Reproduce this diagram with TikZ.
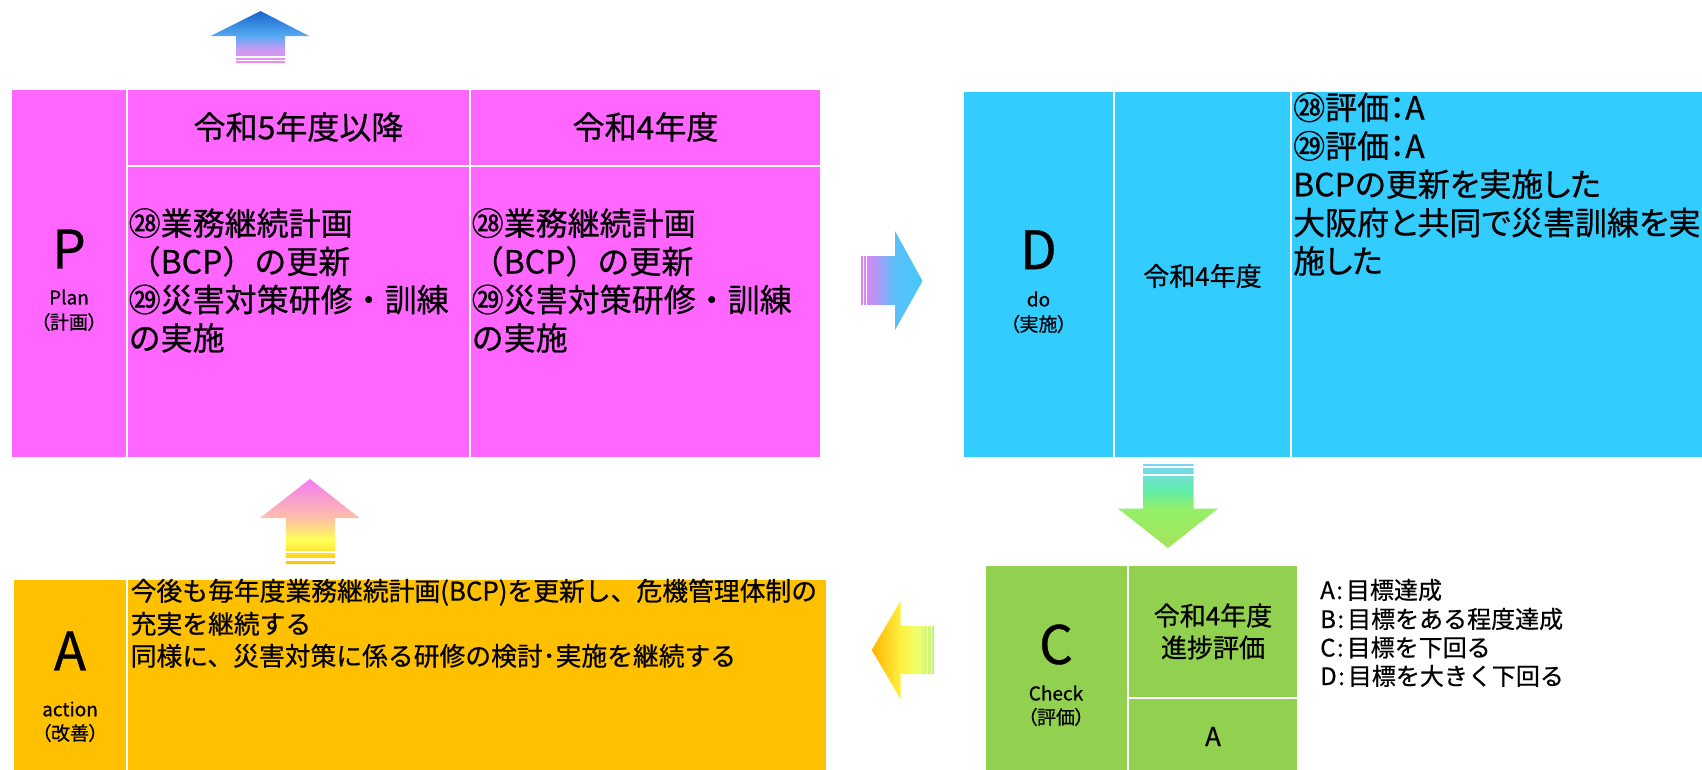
\documentclass[tikz,border=0pt]{standalone}
\usepackage{fontspec}
\setmainfont{Noto Sans CJK JP}[FakeBold=0.6,AutoFakeBold=false]
\newfontfamily\pfont{Noto Sans CJK JP}[RawFeature=+palt,FakeBold=0.6]
\definecolor{pinkP}{HTML}{FF66FF}
\definecolor{blueD}{HTML}{33CCFF}
\definecolor{greenC}{HTML}{92D050}
\definecolor{orangeA}{HTML}{FFC000}
% top up arrow colours
\definecolor{ut1}{HTML}{F08CF0}\definecolor{ut2}{HTML}{C49CF2}\definecolor{ut3}{HTML}{58AAF5}\definecolor{ut4}{HTML}{1566C8}
% right arrow
\definecolor{ra1}{HTML}{E480F6}\definecolor{ra2}{HTML}{BC94F6}\definecolor{ra3}{HTML}{5CC0F8}\definecolor{ra4}{HTML}{45C8FA}
% down arrow
\definecolor{da1}{HTML}{A4E45C}\definecolor{da2}{HTML}{94F068}\definecolor{da3}{HTML}{62EEA8}\definecolor{da4}{HTML}{78D4F4}
% left arrow
\definecolor{la1}{HTML}{FFB400}\definecolor{la2}{HTML}{FFF040}\definecolor{la3}{HTML}{EEFF70}\definecolor{la4}{HTML}{C0F07E}
% up arrow from A
\definecolor{ua1}{HTML}{FFC000}\definecolor{ua2}{HTML}{FFFF58}\definecolor{ua3}{HTML}{FFC0A8}\definecolor{ua4}{HTML}{F47CF4}
\pgfdeclareverticalshading{upTopShade}{100bp}{color(0bp)=(ut1); color(25bp)=(ut1); color(39bp)=(ut2); color(51bp)=(ut3); color(75bp)=(ut4); color(100bp)=(ut4)}
\pgfdeclarehorizontalshading{rightShade}{100bp}{color(0bp)=(ra1); color(25bp)=(ra1); color(36bp)=(ra2); color(52bp)=(ra3); color(75bp)=(ra4); color(100bp)=(ra4)}
\pgfdeclareverticalshading{downShade}{100bp}{color(0bp)=(da1); color(25bp)=(da1); color(48bp)=(da2); color(59bp)=(da3); color(75bp)=(da4); color(100bp)=(da4)}
\pgfdeclarehorizontalshading{leftShade}{100bp}{color(0bp)=(la1); color(25bp)=(la1); color(48bp)=(la2); color(62bp)=(la3); color(75bp)=(la4); color(100bp)=(la4)}
\pgfdeclareverticalshading{upAShade}{100bp}{color(0bp)=(ua1); color(25bp)=(ua1); color(39bp)=(ua2); color(52bp)=(ua3); color(75bp)=(ua4); color(100bp)=(ua4)}
\tikzset{
  cell/.style={draw=white, line width=2pt},
  lbl/.style={inner sep=0pt, text=black},
  ln/.style={inner sep=0pt, anchor=base west, text=black},
  fBig/.style={font=\fontsize{53}{60}\selectfont},
  fSmall/.style={font=\pfont\fontsize{19}{22}\selectfont},
  fMainP/.style={font=\fontsize{32}{38}\selectfont},
  fMainD/.style={font=\pfont\fontsize{32}{38}\selectfont},
  fHdr/.style={font=\fontsize{26}{31}\selectfont},
  fAct/.style={font=\fontsize{25.8}{32}\selectfont},
  fLeg/.style={font=\fontsize{24}{29}\selectfont},
  gapw/.style={fill=white},
}
\begin{document}
\begin{tikzpicture}[x=1pt,y=-1pt]
\useasboundingbox[fill=white] (0,0) rectangle (1702,769);

% ---------- P block ----------
\path[cell,fill=pinkP] (10.7,88.5) rectangle (127,458);
\path[cell,fill=pinkP] (127,88.5) rectangle (470,166);
\path[cell,fill=pinkP] (470,88.5) rectangle (821,166);
\path[cell,fill=pinkP] (127,166) rectangle (470,458);
\path[cell,fill=pinkP] (470,166) rectangle (821,458);
\node[lbl,fBig] (pBig) at (69,249) {P};
\node[lbl,fSmall] (pEn) at (69,297) {Plan};
\node[lbl,fSmall] (pJa) at (69,322) {（計画）};
\node[lbl,fMainP] (pH1) at (298.5,127) {令和5年度以降};
\node[lbl,fMainP] (pH2) at (645.5,127) {令和4年度};
\node[ln,fMainP] (pa1) at (128.5,235.3) {㉘業務継続計画};
\node[ln,fMainP] (pa2) at (128.5,273.5) {（BCP）の更新};
\node[ln,fMainP] (pa3) at (128.5,311.7) {㉙災害対策研修・訓練};
\node[ln,fMainP] (pa4) at (128.5,350) {の実施};
\node[ln,fMainP] (pb1) at (471.5,235.3) {㉘業務継続計画};
\node[ln,fMainP] (pb2) at (471.5,273.5) {（BCP）の更新};
\node[ln,fMainP] (pb3) at (471.5,311.7) {㉙災害対策研修・訓練};
\node[ln,fMainP] (pb4) at (471.5,350) {の実施};

% ---------- D block ----------
\path[cell,fill=blueD] (963,90.5) rectangle (1114,458);
\path[cell,fill=blueD] (1114,90.5) rectangle (1291,458);
\path[cell,fill=blueD] (1291,90.5) rectangle (1705,458);
\node[lbl,fBig] (dBig) at (1038.5,249.7) {D};
\node[lbl,fSmall] (dEn) at (1038.5,299) {do};
\node[lbl,fSmall] (dJa) at (1038.5,324) {（実施）};
\node[lbl,fHdr] (dH) at (1202.5,276) {令和4年度};
\node[ln,fMainD] (d1) at (1293,119.5) {㉘評価：A};
\node[ln,fMainD] (d2) at (1293,158) {㉙評価：A};
\node[ln,fMainD] (d3) at (1293,196.3) {BCPの更新を実施した};
\node[ln,fMainD] (d4) at (1293,234.7) {大阪府と共同で災害訓練を実};
\node[ln,fMainD] (d5) at (1293,273) {施した};

% ---------- C block ----------
\path[cell,fill=greenC] (984.5,565) rectangle (1128,772);
\path[cell,fill=greenC] (1128,565) rectangle (1298,698);
\path[cell,fill=greenC] (1128,698) rectangle (1298,772);
\node[lbl,fBig] (cBig) at (1056,644.5) {C};
\node[lbl,fSmall] (cEn) at (1056,693) {Check};
\node[lbl,fSmall] (cJa) at (1056,717) {（評価）};
\node[lbl,fHdr] (cH1) at (1213,615.5) {令和4年度};
\node[lbl,fHdr] (cH2) at (1213,647.5) {進捗評価};
\node[lbl,fHdr] (cRes) at (1213,736.5) {A};
\node[ln,fLeg] (lg1) at (1320,599) {A\kern1.5pt:\kern3pt 目標達成};
\node[ln,fLeg] (lg2) at (1320,628) {B\kern1.5pt:\kern3pt 目標をある程度達成};
\node[ln,fLeg] (lg3) at (1320,656.5) {C\kern1.5pt:\kern3pt 目標を下回る};
\node[ln,fLeg] (lg4) at (1320,685) {D\kern1.5pt:\kern3pt 目標を大きく下回る};

% ---------- A block ----------
\path[cell,fill=orangeA] (13,578.5) rectangle (127,772);
\path[cell,fill=orangeA] (127,578.5) rectangle (827,772);
\node[lbl,fBig] (aBig) at (70,651) {A};
\node[lbl,fSmall] (aEn) at (70,709) {action};
\node[lbl,fSmall] (aJa) at (70,733) {（改善）};
\node[ln,fAct] (a1) at (130.5,600.6) {今後も毎年度業務継続計画(BCP)を更新し、危機管理体制の};
\node[ln,fAct] (a2) at (130.5,633.6) {充実を継続する};
\node[ln,fAct] (a3) at (130.5,665.6) {同様に、災害対策に係る研修の検討･実施を継続する};

% ---------- block arrows ----------
% top, pointing up
\shade[shading=upTopShade] (236,63) -- (236,36) -- (210.5,36) -- (260.5,11) -- (309,36) -- (285,36) -- (285,63) -- cycle;
\fill[gapw] (234,56.3) rectangle (287,57.6);
\fill[gapw] (234,60.3) rectangle (287,61.4);
% P -> D, pointing right
\shade[shading=rightShade] (861,256) -- (895,256) -- (895,231) -- (922.5,281) -- (895,330) -- (895,305) -- (861,305) -- cycle;
\fill[gapw] (863,254) rectangle (864.3,307);
\fill[gapw] (866,254) rectangle (867,307);
% D -> C, pointing down
\shade[shading=downShade] (1143,464) -- (1193.5,464) -- (1193.5,508.5) -- (1218,508.5) -- (1168,548) -- (1118,508.5) -- (1143,508.5) -- cycle;
\fill[gapw] (1141,466) rectangle (1195.5,467.8);
\fill[gapw] (1141,474) rectangle (1195.5,475.8);
% C -> A, pointing left
\shade[shading=leftShade] (934,626) -- (900.5,626) -- (900.5,601) -- (871.7,650) -- (900.5,699) -- (900.5,674) -- (934,674) -- cycle;
\fill[gapw] (927,624) rectangle (928.3,676);
\fill[gapw] (930.5,624) rectangle (931.6,676);
% A -> P, pointing up
\shade[shading=upAShade] (285.8,564) -- (285.8,518) -- (260,518) -- (310,479) -- (359.5,518) -- (335,518) -- (335,564) -- cycle;
\fill[gapw] (283.8,550.7) rectangle (337,553.3);
\fill[gapw] (283.8,558.3) rectangle (337,560.7);
\end{tikzpicture}
\end{document}
